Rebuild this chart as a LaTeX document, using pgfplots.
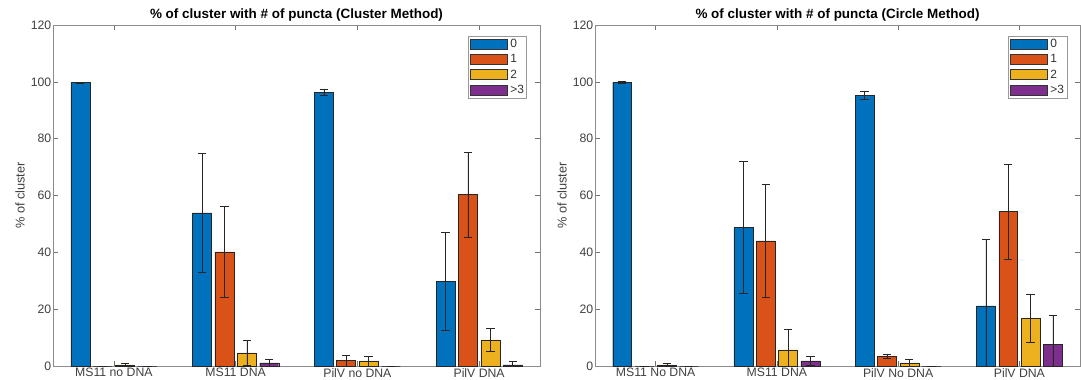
\documentclass[border=0pt]{standalone}
\usepackage{fontspec}
\setmainfont{Liberation Sans}
\usepackage{pgfplots}
\pgfplotsset{compat=1.18}
\usepackage{pgfplotstable}
\definecolor{mb}{rgb}{0,0.447,0.741}
\definecolor{mo}{rgb}{0.850,0.325,0.098}
\definecolor{my}{rgb}{0.929,0.694,0.125}
\definecolor{mp}{rgb}{0.494,0.184,0.556}

% Cluster method
\pgfplotstableread{
x y e
1 99.7 0.3
2 53.9 20.8
3 96.3 1.0
4 29.8 17.2
}\lzero
\pgfplotstableread{
x y e
1 0 0
2 40.2 16.0
3 1.9 2.0
4 60.3 15.0
}\lone
\pgfplotstableread{
x y e
1 0.4 0.5
2 4.6 4.5
3 1.8 1.8
4 9.2 4.0
}\ltwo
\pgfplotstableread{
x y e
1 0 0
2 1.1 1.3
3 0 0
4 0.4 1.2
}\lthree
% Circle method
\pgfplotstableread{
x y e
1 99.8 0.3
2 48.7 23.2
3 95.3 1.3
4 21.2 23.4
}\rzero
\pgfplotstableread{
x y e
1 0 0
2 44.0 19.8
3 3.4 0.6
4 54.3 16.7
}\rone
\pgfplotstableread{
x y e
1 0.4 0.4
2 5.7 7.4
3 1.1 1.3
4 16.8 8.3
}\rtwo
\pgfplotstableread{
x y e
1 0 0
2 1.8 1.7
3 0 0
4 7.6 10.3
}\rthree

\newcommand{\fs}{\fontsize{12.3}{14}\selectfont}
\newcommand{\fy}{\fontsize{12.8}{14}\selectfont}
\newcommand{\fl}{\fontsize{12}{13}\selectfont}
\pgfplotsset{
 mystyle/.style={
  scale only axis, height=341bp,
  ymin=0, ymax=120, ytick={0,20,...,120},
  xmin=0.5, xmax=4.5, xtick={1,2,3,4},
  tick align=inside, major tick length=5bp,
  axis line style={black!45, line width=0.6bp},
  tick style={black!55, line width=0.5bp},
  every tick label/.append style={font=\fs, text=black!75},
  /pgf/number format/assume math mode=true,
  yticklabel style={inner sep=1.5bp},
  xticklabel style={inner sep=1.5bp, yshift=-0.5bp},
  ylabel={\% of cluster}, ylabel style={font=\fy, text=black!75, yshift=1bp},
  title style={font=\bfseries\fontsize{13.5}{15}\selectfont, inner sep=2bp, yshift=-4.5bp},
  legend style={at={(0.973,0.968)}, anchor=north east, draw=black!40,
    font=\fl, row sep=3.3bp, inner sep=1.5bp, text=black!80,
    nodes={inner sep=1.2bp}},
  legend cell align=left,
  legend image code/.code={\draw[#1,draw=black!80,line width=0.4bp] (0bp,-5bp) rectangle (37bp,5bp); \path (39bp,0bp);},
  error bars/y dir=both, error bars/y explicit,
  error bars/error bar style={black!85, line width=0.5bp},
  error bars/error mark options={black!85, mark size=4.2bp, line width=0.5bp, rotate=90},
 },
 bs/.style={ybar, bar width=0.156, bar shift=0, draw=black!85, line width=0.4bp},
}

\begin{document}
\begin{tikzpicture}[x=1bp,y=1bp]
\useasboundingbox (0,0) rectangle (1081,379);
\begin{axis}[mystyle, at={(53bp,13bp)}, anchor=south west, width=487bp,
  xticklabels={MS11 no DNA, MS11 DNA, PilV no DNA, PilV DNA},
  title={\% of cluster with \# of puncta (Cluster Method)}]
\addplot[bs, fill=mb] table[x expr=\thisrow{x}-0.276,y=y,y error=e] {\lzero};
\addplot[bs, fill=mo] table[x expr=\thisrow{x}-0.092,y=y,y error=e] {\lone};
\addplot[bs, fill=my] table[x expr=\thisrow{x}+0.092,y=y,y error=e] {\ltwo};
\addplot[bs, fill=mp] table[x expr=\thisrow{x}+0.276,y=y,y error=e] {\lthree};
\legend{0,1,2,>3}
\end{axis}
\begin{axis}[mystyle, at={(595bp,13bp)}, anchor=south west, width=485bp,
  xticklabels={MS11 No DNA, MS11 DNA, PilV No DNA, PilV DNA},
  title={\% of cluster with \# of puncta (Circle Method)}]
\addplot[bs, fill=mb] table[x expr=\thisrow{x}-0.276,y=y,y error=e] {\rzero};
\addplot[bs, fill=mo] table[x expr=\thisrow{x}-0.092,y=y,y error=e] {\rone};
\addplot[bs, fill=my] table[x expr=\thisrow{x}+0.092,y=y,y error=e] {\rtwo};
\addplot[bs, fill=mp] table[x expr=\thisrow{x}+0.276,y=y,y error=e] {\rthree};
\legend{0,1,2,>3}
\end{axis}
\end{tikzpicture}
\end{document}
